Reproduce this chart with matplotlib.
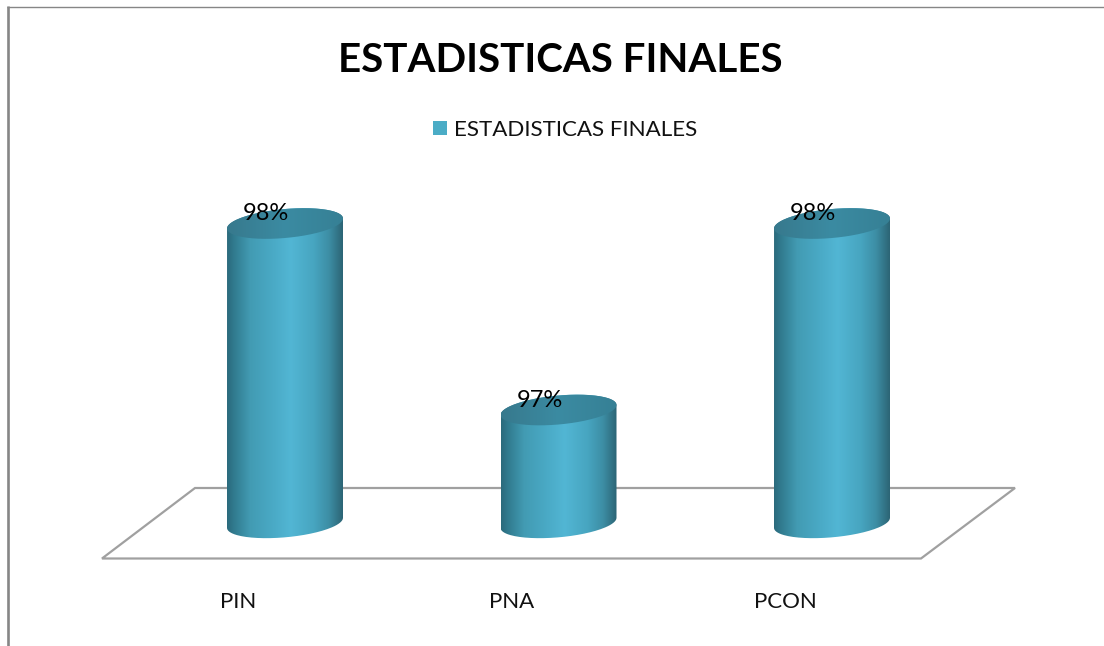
import numpy as np
import matplotlib
matplotlib.use("Agg")
import matplotlib.pyplot as plt
from matplotlib.colors import LinearSegmentedColormap
from matplotlib.patches import PathPatch, Polygon
from matplotlib.path import Path

categories = ["PIN", "PNA", "PCON"]
values = [98, 97, 98]
value_labels = ["98%", "97%", "98%"]
title = "ESTADISTICAS FINALES"
base_value = 96.395

plt.rcParams['font.family'] = ['Lato', 'DejaVu Sans']

W, H = 1104, 646
fig = plt.figure(figsize=(W / 100, H / 100), dpi=100, facecolor='white')

# pixel axes for the frame, floor and text
deco = fig.add_axes([0, 0, 1, 1])
deco.set_xlim(0, W)
deco.set_ylim(H, 0)
deco.axis('off')

deco.plot([8, 8], [6, H], color='#868686', lw=1.9, solid_capstyle='butt')
deco.plot([7, W], [6.5, 6.5], color='#868686', lw=1.0, solid_capstyle='butt')
deco.add_patch(Polygon([(102, 558.5), (195, 488), (1015, 488), (921, 558.5)], closed=True,
                       fill=False, edgecolor='#a0a0a0', lw=1.6))

deco.text(560, 61, title, ha='center', va='center', fontsize=29, fontweight='bold', color='black')
deco.add_patch(plt.Rectangle((433, 121), 14, 14, color='#4bacc6', lw=0))
deco.text(454, 130, title, ha='left', va='center', fontsize=16.1, color='#111111')

# data axes, same area as the figure
ax = fig.add_axes([0, 0, 1, 1])
ax.axis('off')
x_px = 273.5
y_px = 186.5
half_w = 58 / x_px
half_h = 14.5 / y_px
tilt = 5 / y_px

body_cmap = LinearSegmentedColormap.from_list('body', [
    (0.0, '#2b6a7c'), (0.05, '#30788c'), (0.2, '#429bb3'), (0.4, '#4aaac6'),
    (0.55, '#52b6d4'), (0.75, '#47a5c0'), (0.88, '#3d8ea5'), (1.0, '#2c6575')])
cap_cmap = LinearSegmentedColormap.from_list('cap', ['#37798d', '#3b8ba2', '#368095'])


def rim(i, v, t):
    x = i + half_w * np.cos(t)
    y = v - half_h * np.sin(t) + tilt * np.cos(t)
    return np.column_stack([x, y])


def draw_cylinder(i, v):
    front = rim(i, base_value, np.linspace(0, np.pi, 80))
    back = rim(i, v, np.linspace(np.pi, 2 * np.pi, 80))
    clip = PathPatch(Path(np.vstack([front, back, front[:1]])), transform=ax.transData)
    img = ax.imshow(np.linspace(0, 1, 256).reshape(1, -1), cmap=body_cmap, aspect='auto',
                    extent=[i - half_w, i + half_w, base_value - 0.2, v + 0.2], zorder=2)
    img.set_clip_path(clip)

    cap = PathPatch(Path(rim(i, v, np.linspace(0, 2 * np.pi, 160))), transform=ax.transData)
    img2 = ax.imshow(np.linspace(0, 1, 256).reshape(1, -1), cmap=cap_cmap, aspect='auto',
                     extent=[i - half_w, i + half_w, v - 0.2, v + 0.2], zorder=3)
    img2.set_clip_path(cap)


for i, v in enumerate(values):
    draw_cylinder(i, v)
    ax.text(i - 19 / x_px, v + 10 / y_px, value_labels[i], ha='center', va='center',
            fontsize=17, color='black', zorder=4)
    ax.text(i - 47 / x_px, 97 - (601.5 - 410) / y_px, categories[i], ha='center', va='center',
            fontsize=16, color='#111111', zorder=4)

ax.set_xlim(-285 / x_px, (W - 285) / x_px)
ax.set_ylim(97 - (H - 410) / y_px, 97 + 410 / y_px)

fig.savefig('out.png', dpi=100)
